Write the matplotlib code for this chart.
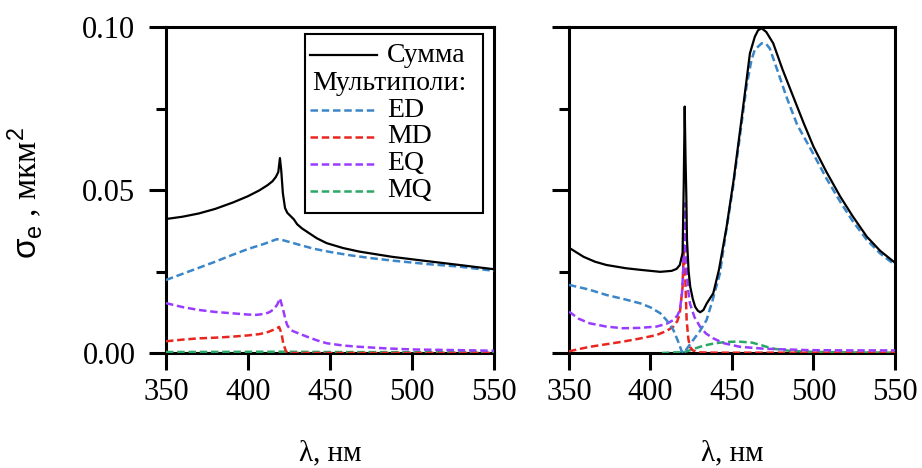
import matplotlib
matplotlib.use("Agg")
import matplotlib.pyplot as plt
from matplotlib.patches import Rectangle

# Fonts: serif text like Times, sans for the sigma in the y label
plt.rcParams['font.family'] = ['Liberation Serif', 'DejaVu Serif']
plt.rcParams['mathtext.fontset'] = 'custom'
plt.rcParams['mathtext.rm'] = 'Liberation Sans'
plt.rcParams['mathtext.it'] = 'Liberation Sans'
plt.rcParams['mathtext.bf'] = 'Liberation Sans:bold'

# ---------------- Left panel data ----------------
lam_sum_a = [350, 360, 370, 380, 391, 400, 407, 412, 415, 417, 418.5, 419.5, 420.3, 421.3, 422.6,
             424, 426, 428, 430, 433, 436, 442, 448, 458, 468, 488, 509, 529, 550]
sum_a = [0.0411, 0.0418, 0.0428, 0.0442, 0.0462, 0.0481, 0.0499, 0.0515, 0.0527, 0.0540, 0.0555,
         0.0598, 0.0560, 0.0490, 0.0445, 0.0430, 0.0420, 0.0410, 0.0395, 0.0382, 0.0372, 0.0352,
         0.0337, 0.0322, 0.0311, 0.0295, 0.0282, 0.0270, 0.0257]

lam_ed_a = [350, 365, 380, 390, 400, 410, 417.5, 420, 425, 432, 440, 450, 462, 475, 489, 509, 529, 550]
ed_a = [0.0224, 0.0252, 0.0280, 0.0300, 0.0319, 0.0335, 0.0349, 0.0348, 0.0341, 0.0331, 0.0320,
        0.0310, 0.0300, 0.0291, 0.0283, 0.0273, 0.0265, 0.0252]

lam_md_a = [350, 360, 370, 380, 390, 400, 407, 412, 415.5, 418, 419, 420.5, 421.5, 423, 424, 550]
md_a = [0.0036, 0.0041, 0.0045, 0.0047, 0.0050, 0.0054, 0.0058, 0.0064, 0.0071, 0.0077, 0.0080,
        0.0060, 0.0030, 0.0008, 0.0, 0.0]

lam_eq_a = [350, 360, 370, 380, 390, 400, 405, 410, 413, 416, 418, 419.5, 420.5, 421.5, 423, 424,
            426, 428, 432, 436, 442, 448, 458, 468, 485, 500, 525, 550]
eq_a = [0.0153, 0.0141, 0.0132, 0.0126, 0.0122, 0.0118, 0.0117, 0.0120, 0.0125, 0.0135, 0.0150,
        0.0168, 0.0150, 0.0132, 0.0100, 0.0085, 0.0071, 0.0066, 0.0058, 0.0050, 0.0039, 0.0030,
        0.0023, 0.0019, 0.0014, 0.0011, 0.0009, 0.0007]

lam_mq_a = [350, 420, 450, 550]
mq_a = [0.0003, 0.0004, 0.0003, 0.0002]

# ---------------- Right panel data ----------------
lam_sum_b = [350, 359, 366, 373, 385, 394, 406, 413, 416, 418, 419.7, 420.4, 421.0, 421.5, 422.0,
             422.4, 423.4, 424.4, 426, 427.4, 429, 430.5, 432.5, 434.5, 438.5, 442, 446.7, 451, 455,
             458, 461, 464, 466, 468.2, 471, 475.3, 481, 487.6, 494, 500, 508, 516.4, 524, 532.7,
             541, 550]
sum_b = [0.0323, 0.0295, 0.0280, 0.0270, 0.0260, 0.0255, 0.0249, 0.0252, 0.0258, 0.0270, 0.0307,
         0.0515, 0.0756, 0.0600, 0.0480, 0.0347, 0.0250, 0.0203, 0.0165, 0.0142, 0.0130, 0.0125,
         0.0132, 0.0152, 0.0183, 0.0255, 0.0387, 0.0530, 0.0684, 0.0800, 0.0919, 0.0970, 0.0990,
         0.0996, 0.0985, 0.0950, 0.0870, 0.0786, 0.0705, 0.0633, 0.0555, 0.0480, 0.0420, 0.0357,
         0.0313, 0.0277]

lam_ed_b = [350, 362, 373, 384, 394, 400, 406, 410, 414, 417, 419.1, 420.5, 423, 426.2, 430, 434.4,
            438, 442.6, 446, 450.7, 455, 458.9, 462, 464, 468.2, 471, 473.2, 478, 483.4, 490, 499.8,
            508, 516.4, 524, 532.7, 541, 550]
ed_b = [0.0209, 0.0195, 0.0178, 0.0165, 0.0152, 0.0140, 0.0122, 0.0100, 0.0071, 0.0035, 0.0006,
        0.0000, 0.0018, 0.0040, 0.0065, 0.0101, 0.0160, 0.0244, 0.0360, 0.0510, 0.0670, 0.0817,
        0.0900, 0.0930, 0.0950, 0.0948, 0.0934, 0.0865, 0.0786, 0.0700, 0.0612, 0.0535, 0.0464,
        0.0405, 0.0347, 0.0305, 0.0270]

lam_md_b = [350, 356, 362.8, 373, 383.2, 393, 403.7, 410, 414, 416.5, 418, 419.7, 420.5, 421.2,
            422.2, 423.2, 424.2, 426, 430, 440, 550]
md_b = [0.0005, 0.0012, 0.0019, 0.0027, 0.0035, 0.0044, 0.0055, 0.0068, 0.0081, 0.0098, 0.0122,
        0.0203, 0.0330, 0.0250, 0.0101, 0.0045, 0.0019, 0.0008, 0.0002, 0.0001, 0.0001]

lam_eq_b = [350, 356, 362.8, 373, 383, 393, 403.7, 410, 414, 416.5, 418, 419.3, 420.1, 420.6, 421.1,
            421.6, 422.2, 423.2, 424.2, 427, 430.4, 434, 438.5, 445, 454.9, 470, 495.8, 520, 550]
eq_b = [0.0127, 0.0105, 0.0091, 0.0081, 0.0076, 0.0077, 0.0081, 0.0090, 0.0101, 0.0115, 0.0132,
        0.0180, 0.0255, 0.0350, 0.0459, 0.0350, 0.0255, 0.0190, 0.0152, 0.0110, 0.0081, 0.0060,
        0.0045, 0.0030, 0.0019, 0.0013, 0.0009, 0.0008, 0.0008]

lam_mq_b = [407, 415, 420, 424, 427.3, 433, 439.6, 447, 454, 462.2, 468, 474.5, 485, 495.8, 520, 550]
mq_b = [0.0000, 0.0002, 0.0002, 0.0008, 0.0014, 0.0023, 0.0030, 0.0034, 0.0035, 0.0032, 0.0024,
        0.0014, 0.0007, 0.0004, 0.0002, 0.0001]

x_ticks = [350, 400, 450, 500, 550]
y_ticks = [0.00, 0.05, 0.10]
y_minor = [0.025, 0.075]

c_ed = '#3a86c8'
c_md = '#e8261f'
c_eq = '#9a3cff'
c_mq = '#2aa866'
dash = (0, (3, 1.5))

fig = plt.figure(figsize=(9.22, 4.68), dpi=100)
ax1 = fig.add_axes([0.1800, 0.2457, 0.3557, 0.6966])
ax2 = fig.add_axes([0.6171, 0.2457, 0.3536, 0.6966])

panels = [
    (ax1, lam_sum_a, sum_a, lam_ed_a, ed_a, lam_md_a, md_a, lam_eq_a, eq_a, lam_mq_a, mq_a),
    (ax2, lam_sum_b, sum_b, lam_ed_b, ed_b, lam_md_b, md_b, lam_eq_b, eq_b, lam_mq_b, mq_b),
]

for ax, ls, s, le, e, lm, m, lq, q, lmq, mq in panels:
    ax.plot(lmq, mq, color=c_mq, lw=1.8, ls=dash, zorder=3)
    ax.plot(lm, m, color=c_md, lw=1.8, ls=dash, zorder=3)
    ax.plot(lq, q, color=c_eq, lw=1.8, ls=dash, zorder=3)
    ax.plot(le, e, color=c_ed, lw=1.8, ls=dash, zorder=3)
    ax.plot(ls, s, color='black', lw=1.6, zorder=4)

    ax.set_xlim(350, 550)
    ax.set_ylim(0, 0.1)
    ax.set_xticks(x_ticks)
    ax.set_yticks(y_ticks)
    ax.set_yticks(y_minor, minor=True)
    ax.yaxis.set_major_formatter(plt.FormatStrFormatter('%.2f'))
    ax.tick_params(which='major', direction='out', length=12, width=2.2, labelsize=22, pad=6)
    ax.tick_params(axis='y', which='major', pad=10)
    ax.tick_params(which='minor', direction='out', length=7, width=2.2)
    for sp in ax.spines.values():
        sp.set_linewidth(2.2)
    ax.set_xlabel('λ, нм', fontsize=21, labelpad=24)

ax2.tick_params(labelleft=False)

ax1.set_ylabel(r'$\sigma_{e}$ , мкм$^{2}$', fontsize=24)
ax1.yaxis.set_label_coords(-0.37, 0.49)

# Legend box drawn by hand (the "Мультиполи:" line has no sample)
ax1.add_patch(Rectangle((0.424, 0.429), 0.542, 0.550, transform=ax1.transAxes,
                        fill=False, edgecolor='black', lw=1.5, zorder=5))
leg_rows = [
    ('Сумма', 'black', '-', 0.914),
    ('ED', c_ed, dash, 0.745),
    ('MD', c_md, dash, 0.663),
    ('EQ', c_eq, dash, 0.580),
    ('MQ', c_mq, dash, 0.497),
]
for label, col, style, yy in leg_rows:
    ax1.plot([0.439, 0.643], [yy, yy], transform=ax1.transAxes, color=col, ls=style,
             lw=1.6 if style == '-' else 1.8, zorder=5)
    ax1.text(0.674, yy, label, transform=ax1.transAxes, fontsize=20, va='center', ha='left')
ax1.text(0.445, 0.828, 'Мультиполи:', transform=ax1.transAxes, fontsize=20, va='center', ha='left')

plt.savefig('out.png', dpi=100)
